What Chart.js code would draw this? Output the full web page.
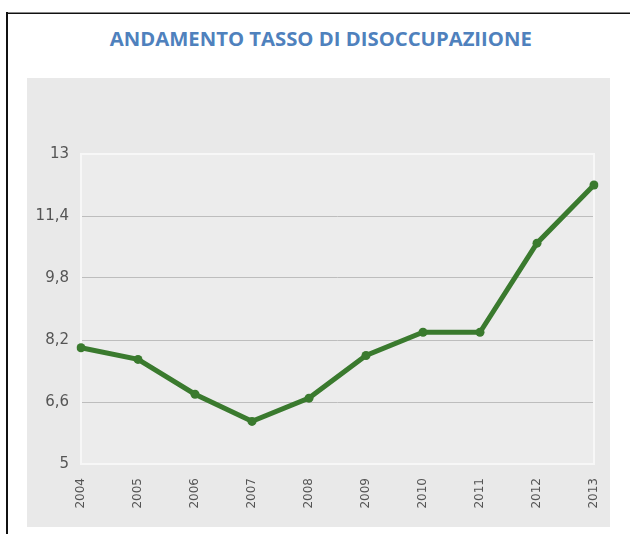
<!DOCTYPE html>
<html>
<head>
<meta charset="utf-8">
<script src="https://cdn.jsdelivr.net/npm/chart.js@4"></script>
<style>
  html, body { margin: 0; padding: 0; background: #ffffff; width: 630px; height: 534px; overflow: hidden; }
  #frameTop { position: absolute; left: 6px; top: 12px; width: 624px; height: 2px; background: #111; border-top: 1px solid #888; box-sizing: border-box; }
  #frameLeft { position: absolute; left: 6px; top: 12px; width: 2px; height: 522px; background: #111; }
  #title { position: absolute; left: 6px; top: 26px; width: 630px; text-align: center; white-space: nowrap;
           font-family: "Open Sans", sans-serif; font-weight: bold; font-size: 19px; color: #4f81bd; }
  #title span { display: inline-block; transform-origin: center center; }
  #panel { position: absolute; left: 27px; top: 78px; width: 583px; height: 449px; background: #e9e9e9; }
  canvas { display: block; }
</style>
</head>
<body>
<div id="frameTop"></div>
<div id="frameLeft"></div>
<div id="title"><span id="titleText">ANDAMENTO TASSO DI DISOCCUPAZIIONE</span></div>
<div id="panel"><canvas id="c" width="583" height="449"></canvas></div>
<script>
const categories = ["2004","2005","2006","2007","2008","2009","2010","2011","2012","2013"];
const unemploymentRate = [8.0, 7.7, 6.8, 6.1, 6.7, 7.8, 8.4, 8.4, 10.7, 12.2];
const yTickValues = [5, 6.6, 8.2, 9.8, 11.4, 13];
const yTickLabels = ["5", "6,6", "8,2", "9,8", "11,4", "13"];

// fit title width to reference
(function(){
  const s = document.getElementById('titleText');
  const w = s.getBoundingClientRect().width;
  const target = 422;
  if (w > 0) s.style.transform = 'scaleX(' + (target / w) + ')';
})();

const plotFrame = {
  id: 'plotFrame',
  beforeDraw(chart) {
    const {ctx, chartArea: a} = chart;
    ctx.save();
    ctx.fillStyle = '#ececec';
    ctx.fillRect(a.left, a.top, a.right - a.left, a.bottom - a.top);
    ctx.restore();
  },
  beforeDatasetsDraw(chart) {
    const {ctx, chartArea: a} = chart;
    ctx.save();
    ctx.strokeStyle = '#f7f7f7';
    ctx.lineWidth = 2;
    ctx.strokeRect(a.left, a.top, a.right - a.left, a.bottom - a.top);
    ctx.restore();
  }
};

new Chart(document.getElementById('c'), {
  type: 'line',
  data: {
    labels: categories,
    datasets: [{
      data: unemploymentRate,
      borderColor: '#3a7a2e',
      backgroundColor: '#3a7a2e',
      borderWidth: 5,
      pointRadius: 4.5,
      pointHoverRadius: 4.5,
      pointBackgroundColor: '#3a7a2e',
      pointBorderWidth: 0,
      tension: 0,
      fill: false
    }]
  },
  options: {
    responsive: false,
    animation: false,
    events: [],
    layout: { padding: { left: 0, top: 76, right: 16, bottom: 0 } },
    plugins: { legend: { display: false }, tooltip: { enabled: false }, title: { display: false } },
    scales: {
      x: {
        offset: false,
        grid: { display: false, drawTicks: false },
        border: { display: false },
        ticks: {
          autoSkip: false, minRotation: 90, maxRotation: 90, padding: 14,
          color: '#555555', font: { family: 'DejaVu Sans', size: 12 }
        },
        afterFit(axis) { axis.height = 63; axis.paddingLeft = 0; axis.paddingRight = 0; }
      },
      y: {
        min: 5, max: 13,
        afterBuildTicks(axis) { axis.ticks = yTickValues.map(v => ({ value: v })); },
        grid: {
          drawTicks: false,
          lineWidth: 1,
          color: (ctx) => (ctx.tick && (ctx.tick.value === 5 || ctx.tick.value === 13)) ? 'rgba(0,0,0,0)' : '#bdbdbd'
        },
        border: { display: false },
        ticks: {
          padding: 12,
          color: '#555555',
          font: { family: 'DejaVu Sans', size: 15 },
          callback: (v) => { const i = yTickValues.indexOf(v); return i >= 0 ? yTickLabels[i] : ''; }
        },
        afterFit(axis) { axis.width = 54; axis.paddingTop = 0; axis.paddingBottom = 0; }
      }
    }
  },
  plugins: [plotFrame]
});
</script>
</body>
</html>
